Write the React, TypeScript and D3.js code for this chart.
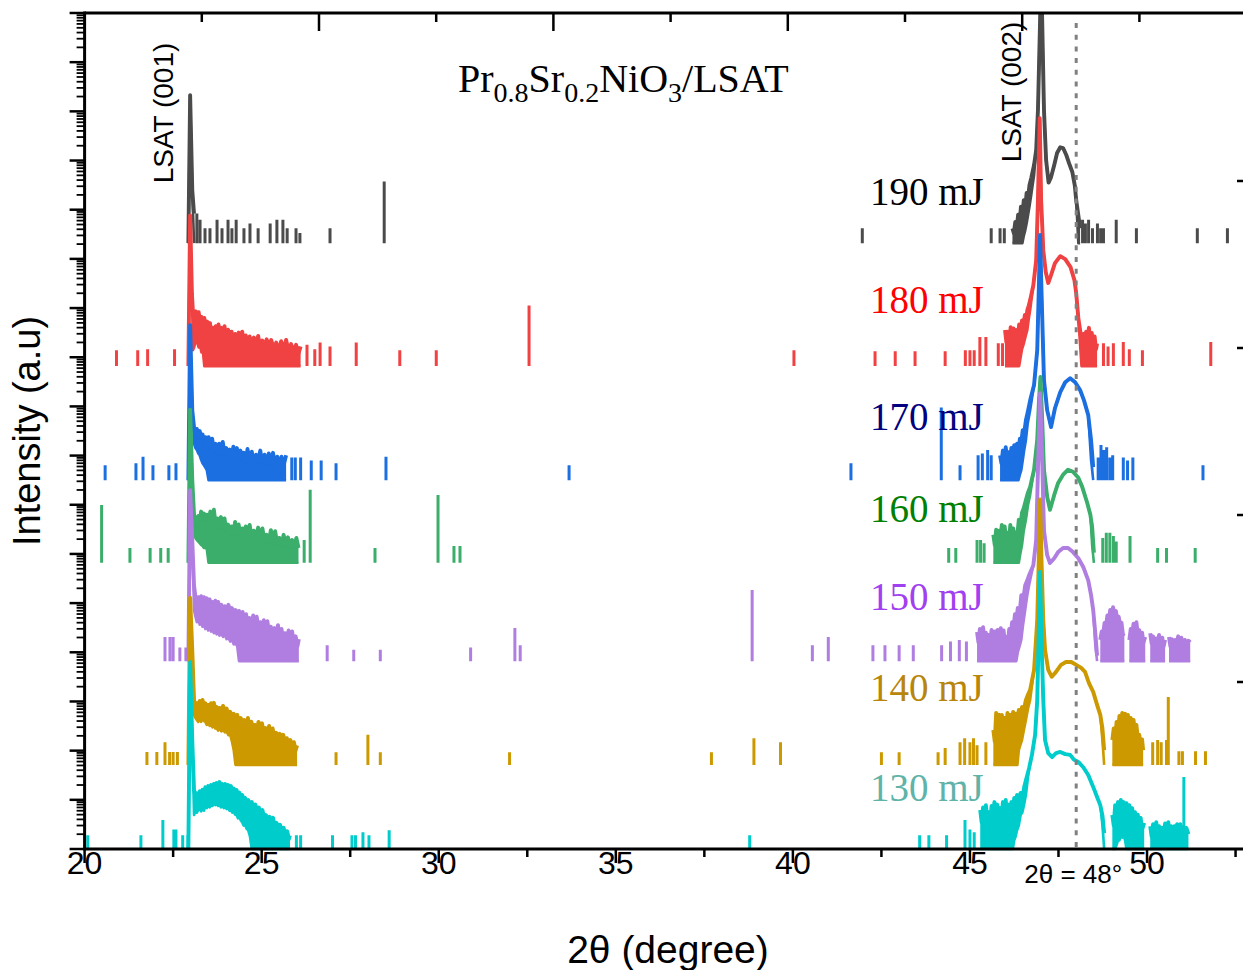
import React from 'react';
import * as d3 from 'd3';

// ---------- data ----------
const energies = ['190 mJ', '180 mJ', '170 mJ', '160 mJ', '150 mJ', '140 mJ', '130 mJ'];
const traceColors = ['#4b4b4b', '#f04242', '#1b6fe0', '#3aae6a', '#b07ee0', '#cc9900', '#00cccc'];
const labelColors = ['#000000', '#ff0000', '#000080', '#008000', '#a040f0', '#b8860b', '#5fb3a8'];
// vertical stacking: each pattern is multiplied by 10^exponent
const stackExponents = [12.32, 9.82, 7.5, 5.82, 3.82, 1.71, 0];

// [2θ, upper counts, lower counts]; null = no counts (gap)
const band190 = [
  [22.93, 1, 1], [22.98, 1020, 1020], [23.04, 12, 12], [23.09, 4, 1], null,
  [46.2, 2, 1], [46.24, 1.6, 1], [46.28, 2.7, 1], [46.32, 2, 1], [46.36, 3.8, 1], [46.4, 2.5, 1], [46.44, 5.5, 1],
  [46.48, 3.5, 1], [46.52, 7.5, 1.4], [46.56, 5, 1.8], [46.6, 10.5, 2.5], [46.64, 8, 3.7], [46.68, 15, 5.5],
  [46.73, 21, 9.5], [46.81, 39, 24], [46.87, 78, 78], [46.92, 510, 510], [46.98, 33000, 33000],
  [47.01, 360000, 360000], [47.04, 33000, 33000], [47.09, 510, 510], [47.15, 49, 49], [47.22, 17, 17],
  [47.29, 22, 22], [47.38, 39, 39], [47.46, 68, 68], [47.55, 89, 89], [47.63, 86, 86], [47.72, 62, 62],
  [47.8, 42, 42], [47.89, 28, 28], [47.96, 15, 15], [48.0, 7.5, 7.5], [48.06, 3.7, 1], [48.11, 2, 1],
];
const band180 = [
  [22.93, 1, 1], [22.98, 1150, 1150], [23.03, 30, 30], [23.06, 12, 2.1], [23.1, 9, 2.5], [23.14, 13, 3.4],
  [23.18, 10, 3], [23.22, 12.5, 2.4], [23.26, 8, 2.6], [23.3, 10, 1.9], [23.34, 7, 2], [23.38, 9.5, 1],
  [23.42, 6.5, 1], [23.46, 8, 1], [23.5, 5.5, 1], [23.54, 7.5, 1], [23.58, 4.5, 1], [23.62, 6, 1], [23.66, 4, 1],
  [23.7, 6.5, 1], [23.74, 5, 1], [23.78, 7, 1], [23.82, 4.5, 1], [23.86, 6, 1], [23.9, 4, 1], [23.95, 6.5, 1],
  [24.0, 3.5, 1], [24.05, 5.5, 1], [24.1, 3.8, 1], [24.15, 5, 1], [24.2, 3.2, 1], [24.25, 4.5, 1], [24.3, 3, 1],
  [24.35, 4.8, 1], [24.4, 3.3, 1], [24.45, 5, 1], [24.5, 3, 1], [24.55, 4.2, 1], [24.6, 2.7, 1], [24.66, 4, 1],
  [24.72, 2.5, 1], [24.78, 3.8, 1], [24.84, 2.6, 1], [24.9, 4.1, 1], [24.96, 2.4, 1], [25.02, 3.3, 1],
  [25.08, 2.2, 1], [25.14, 3.5, 1], [25.2, 2.5, 1], [25.27, 3.4, 1], [25.34, 2.2, 1], [25.41, 3, 1], [25.48, 2, 1],
  [25.55, 3.2, 1], [25.62, 2.2, 1], [25.69, 3.4, 1], [25.76, 2, 1], [25.83, 2.8, 1], [25.9, 2, 1], [25.97, 2.7, 1],
  [26.04, 1.8, 1], [26.1, 2.5, 1], null,
  [45.99, 5.4, 1], [46.03, 3, 1], [46.07, 5, 1], [46.11, 2.5, 1], [46.15, 6.2, 1], [46.19, 3.5, 1], [46.23, 5.8, 1],
  [46.27, 3.2, 1], [46.31, 5.4, 1], [46.35, 3.8, 1], [46.39, 7, 1], [46.43, 4.5, 1.5], [46.47, 8.5, 2.2],
  [46.51, 6.5, 2.7], [46.55, 11, 3.5], [46.59, 9, 4.5], [46.62, 13.8, 5.4], [46.66, 17, 9], [46.7, 22, 13.8],
  [46.79, 44, 44], [46.87, 143, 143], [46.92, 2370, 2370], [46.97, 110000, 110000], [47.01, 2370, 2370],
  [47.07, 228, 228], [47.14, 82, 82], [47.21, 49, 49], [47.29, 71, 71], [47.4, 124, 124], [47.55, 172, 172],
  [47.69, 150, 150], [47.84, 103, 103], [47.95, 56, 56], [48.0, 30.6, 30.6], [48.06, 9.5, 9.5], [48.11, 5.4, 2.7],
  [48.15, 3.2, 1], [48.2, 4.5, 1], [48.24, 2.6, 1], [48.28, 5, 1], [48.32, 3.2, 1], [48.36, 6, 1], [48.4, 3, 1],
  [48.44, 4.7, 1], [48.48, 2.6, 1], [48.52, 4, 1], [48.56, 2.2, 1], [48.59, 2.9, 1],
];
const band170 = [
  [22.93, 1, 1], [22.98, 1420, 1420], [23.04, 26.5, 26.5], [23.09, 12, 5.6], [23.13, 9, 4.5], [23.17, 11, 4.1],
  [23.21, 8.5, 3.5], [23.25, 10, 3.2], [23.29, 7.5, 2.6], [23.33, 8.5, 2.2], [23.37, 6, 2], [23.41, 7.5, 1.8],
  [23.45, 5.5, 1.6], [23.5, 7.5, 1], [23.55, 4.5, 1], [23.6, 7, 1], [23.65, 4, 1], [23.7, 5.5, 1], [23.75, 3.5, 1],
  [23.8, 5.5, 1], [23.85, 3.8, 1], [23.9, 6, 1], [23.95, 3.5, 1], [24.0, 4.5, 1], [24.05, 3, 1], [24.1, 4.2, 1],
  [24.15, 2.8, 1], [24.2, 4.8, 1], [24.25, 3, 1], [24.3, 4.5, 1], [24.35, 2.5, 1], [24.4, 4, 1], [24.45, 2.7, 1],
  [24.5, 3.6, 1], [24.55, 2.3, 1], [24.6, 4.3, 1], [24.66, 2.5, 1], [24.72, 3.8, 1], [24.78, 2.2, 1],
  [24.84, 3.3, 1], [24.9, 2.4, 1], [24.96, 4, 1], [25.02, 2.2, 1], [25.08, 3.3, 1], [25.14, 2, 1], [25.2, 3.5, 1],
  [25.26, 2.2, 1], [25.32, 3.6, 1], [25.38, 2, 1], [25.44, 3, 1], [25.5, 1.9, 1], [25.56, 3, 1], [25.62, 2, 1],
  [25.69, 3.2, 1], null,
  [45.85, 3.2, 1], [45.89, 2.2, 1], [45.93, 4, 1], [45.97, 2.5, 1], [46.01, 4.7, 1], [46.05, 2.6, 1],
  [46.09, 3.7, 1], [46.13, 2.4, 1], [46.17, 4.5, 1], [46.21, 3, 1], [46.25, 5.15, 1], [46.29, 3.2, 1],
  [46.33, 5.5, 1], [46.37, 3.8, 1], [46.41, 7, 1.3], [46.45, 6, 1.6], [46.49, 10.4, 2.5], [46.53, 9, 4],
  [46.58, 16.6, 6.5], [46.63, 24, 14], [46.7, 42, 26.5], [46.81, 86, 86], [46.9, 440, 440], [46.95, 11500, 11500],
  [46.98, 97000, 97000], [47.02, 7200, 7200], [47.09, 108, 108], [47.18, 26.5, 26.5], [47.29, 12, 12],
  [47.4, 29, 29], [47.55, 62, 62], [47.69, 98, 98], [47.83, 118, 118], [47.97, 98, 98], [48.11, 68, 68],
  [48.22, 42, 42], [48.34, 21, 21], [48.42, 6.5, 2.55], [48.48, 1.84, 1],
];
const band160 = [
  [22.93, 1, 1], [22.98, 1300, 1300], [23.04, 49, 49], [23.09, 9.5, 3.7], [23.13, 7, 3.2], [23.17, 6, 2.9],
  [23.21, 9, 2.7], [23.25, 7, 2.5], [23.29, 11, 2.3], [23.33, 8, 2.2], [23.37, 10, 2], [23.41, 7.5, 2],
  [23.45, 9.5, 1.9], [23.5, 7, 1], [23.55, 11, 1], [23.6, 8, 1], [23.65, 12, 1], [23.7, 6, 1], [23.75, 8, 1],
  [23.8, 5, 1], [23.85, 8.5, 1], [23.9, 5.5, 1], [23.95, 8, 1], [24.0, 4.5, 1], [24.05, 6, 1], [24.1, 4, 1],
  [24.15, 5.5, 1], [24.2, 3.8, 1], [24.25, 6.8, 1], [24.3, 4, 1], [24.35, 6, 1], [24.4, 3.5, 1], [24.45, 5, 1],
  [24.5, 3.3, 1], [24.55, 5.5, 1], [24.6, 3.5, 1], [24.66, 5.9, 1], [24.72, 3.2, 1], [24.78, 4.5, 1],
  [24.84, 3, 1], [24.9, 5.2, 1], [24.96, 3.2, 1], [25.02, 5, 1], [25.08, 2.8, 1], [25.14, 3.7, 1], [25.2, 2.6, 1],
  [25.26, 4.6, 1], [25.32, 2.8, 1], [25.38, 4.4, 1], [25.44, 2.4, 1], [25.5, 3.2, 1], [25.56, 2.3, 1],
  [25.62, 3.7, 1], [25.68, 2.2, 1], [25.74, 3.3, 1], [25.8, 2.2, 1], [25.86, 2.9, 1], [25.92, 2.1, 1],
  [25.98, 3.2, 1], [26.04, 2, 1], null,
  [45.66, 3.7, 1], [45.7, 2.3, 1], [45.74, 4.7, 1], [45.78, 2.8, 1], [45.82, 4.5, 1], [45.86, 3, 1],
  [45.9, 5.9, 1], [45.94, 3.5, 1], [45.98, 5.5, 1], [46.02, 3, 1], [46.06, 4.1, 1], [46.1, 2.7, 1],
  [46.14, 5.9, 1], [46.18, 3.5, 1], [46.22, 5, 1], [46.26, 3.3, 1], [46.3, 4.1, 1], [46.34, 3.8, 1],
  [46.38, 7.5, 1], [46.42, 5.5, 1.5], [46.47, 10.4, 2.3], [46.52, 13, 4.5], [46.58, 19, 7.5], [46.64, 27, 15],
  [46.7, 35, 24], [46.81, 78, 78], [46.9, 320, 320], [46.95, 2070, 2070], [46.99, 6000, 6000], [47.04, 800, 800],
  [47.09, 78, 78], [47.18, 22, 22], [47.26, 12, 12], [47.38, 24, 24], [47.49, 42, 42], [47.63, 62, 62],
  [47.77, 78, 78], [47.91, 71, 71], [48.06, 53.5, 53.5], [48.17, 35, 35], [48.31, 16.6, 16.6], [48.4, 9.5, 9.5],
  [48.45, 5.4, 2.3], [48.5, 1.6, 1],
];
const band150 = [
  [22.93, 1, 1], [22.98, 3000, 3000], [23.04, 290, 290], [23.09, 35, 10.9], [23.13, 20, 8], [23.17, 17, 6.2],
  [23.21, 20, 7], [23.25, 16, 5.5], [23.29, 21, 6], [23.33, 17, 5], [23.37, 20, 5.5], [23.41, 16, 4.5],
  [23.45, 19, 5], [23.49, 15, 4.2], [23.53, 18, 4.7], [23.57, 14, 4], [23.61, 16, 4.3], [23.65, 13, 3.7],
  [23.69, 17, 4], [23.73, 13, 3.5], [23.77, 16, 3.9], [23.81, 12, 3.3], [23.86, 14, 3.6], [23.91, 10.5, 3.1],
  [23.96, 13, 3.4], [24.01, 10, 2.8], [24.06, 14, 3], [24.11, 10.5, 2.5], [24.16, 12, 2.7], [24.21, 9, 2.2],
  [24.26, 11, 2.3], [24.31, 8, 2], [24.36, 10.5, 1], [24.41, 7, 1], [24.46, 10, 1], [24.51, 6.5, 1],
  [24.56, 9, 1], [24.61, 5.5, 1], [24.66, 7.5, 1], [24.71, 5, 1], [24.76, 8.5, 1], [24.81, 5, 1], [24.86, 8, 1],
  [24.91, 4.5, 1], [24.96, 6.2, 1], [25.01, 4, 1], [25.06, 6.8, 1], [25.11, 4, 1], [25.16, 6.5, 1],
  [25.21, 3.8, 1], [25.26, 5, 1], [25.31, 3.3, 1], [25.36, 4.7, 1], [25.41, 3, 1], [25.46, 5.4, 1], [25.51, 3, 1],
  [25.56, 4.5, 1], [25.61, 2.7, 1], [25.66, 3.7, 1], [25.71, 2.4, 1], [25.76, 4.2, 1], [25.81, 2.5, 1],
  [25.86, 4, 1], [25.91, 2.2, 1], [25.96, 3.2, 1], [26.01, 2, 1], [26.05, 2.8, 1], null,
  [45.2, 3.9, 1], [45.24, 2.4, 1], [45.28, 4.5, 1], [45.32, 2.8, 1], [45.37, 4.9, 1], [45.41, 2.6, 1],
  [45.45, 3.8, 1], [45.49, 2.2, 1], [45.53, 3.4, 1], [45.57, 2.4, 1], [45.61, 4.3, 1], [45.65, 2.6, 1],
  [45.7, 4, 1], [45.74, 2.8, 1], [45.78, 4.3, 1], [45.82, 2.5, 1], [45.87, 4.7, 1], [45.91, 3, 1], [45.95, 4.2, 1],
  [45.99, 2.2, 1], [46.03, 3.1, 1], [46.07, 2.5, 1], [46.11, 4.5, 1], [46.15, 3.2, 1], [46.19, 6.2, 1],
  [46.23, 4.5, 1], [46.27, 9, 1], [46.31, 6.5, 1], [46.35, 12, 1.5], [46.4, 9, 2], [46.45, 22, 2.7],
  [46.5, 17, 5.5], [46.56, 35, 10.9], [46.62, 44, 22], [46.67, 56, 35], [46.79, 89, 89], [46.87, 290, 290],
  [46.92, 7700, 7700], [46.98, 280000, 280000], [47.04, 12000, 12000], [47.09, 460, 460], [47.18, 143, 143],
  [47.26, 99, 99], [47.38, 124, 124], [47.49, 165, 165], [47.63, 200, 200], [47.77, 200, 200], [47.91, 165, 165],
  [48.06, 124, 124], [48.2, 82, 82], [48.34, 44, 44], [48.42, 22, 22], [48.48, 10.9, 10.9], [48.54, 3.7, 2.1],
  [48.59, 1.3, 1], null,
  [48.68, 2.7, 1], [48.72, 4, 1], [48.76, 3.5, 1], [48.8, 6, 1], [48.84, 5, 1], [48.88, 8.5, 1], [48.92, 6.5, 1],
  [48.96, 11, 1], [49.0, 8, 1], [49.04, 12.5, 1], [49.08, 9, 1], [49.12, 10.5, 1], [49.16, 7, 1], [49.2, 8, 1],
  [49.24, 5.5, 1], [49.28, 6, 1], [49.32, 3.5, 1], [49.36, 3.7, 1], null,
  [49.5, 2.7, 1], [49.54, 4.5, 1], [49.58, 3.5, 1], [49.62, 5.8, 1], [49.66, 4, 1], [49.7, 6.2, 1], [49.74, 3.5, 1],
  [49.78, 4.3, 1], [49.82, 2.6, 1], [49.86, 3.8, 1], [49.9, 2.4, 1], [49.95, 3.1, 1], null,
  [50.09, 3.7, 1], [50.13, 2.3, 1], [50.17, 3.2, 1], [50.21, 2, 1], [50.25, 2.9, 1], [50.3, 2.2, 1],
  [50.34, 3.4, 1], [50.38, 2.1, 1], [50.43, 3, 1], [50.47, 2, 1], [50.51, 2.7, 1], null,
  [50.62, 3.1, 1], [50.66, 2, 1], [50.7, 2.8, 1], [50.75, 1.9, 1], [50.79, 2.7, 1], [50.83, 2, 1], [50.88, 3.2, 1],
  [50.93, 2.2, 1], [50.97, 3, 1], [51.01, 1.9, 1], [51.07, 2.7, 1], [51.12, 2, 1], [51.17, 2.6, 1], [51.22, 2.4, 1],
];
const band140 = [
  [22.93, 1, 1], [22.98, 2500, 2500], [23.04, 218, 218], [23.09, 21, 10.4], [23.13, 15, 9], [23.17, 18, 8.2],
  [23.21, 14, 7.5], [23.25, 20, 8.5], [23.29, 15, 7.5], [23.33, 21, 9], [23.37, 15.5, 7.8], [23.41, 18, 7.5],
  [23.45, 14, 6.5], [23.49, 16.6, 7.5], [23.53, 13, 6.2], [23.57, 18, 6.5], [23.61, 14, 5.8], [23.65, 18.3, 6.5],
  [23.69, 13, 5.5], [23.73, 15, 5.6], [23.77, 12, 5], [23.81, 14.4, 5.5], [23.86, 11.5, 4.8], [23.91, 15.8, 5.15],
  [23.96, 11, 4.6], [24.01, 14, 4.8], [24.06, 10, 4], [24.11, 12, 4.1], [24.16, 9, 3], [24.21, 11, 2],
  [24.26, 8, 1], [24.31, 10.4, 1], [24.36, 7, 1], [24.41, 9, 1], [24.46, 6.5, 1], [24.51, 8.2, 1], [24.56, 5.5, 1],
  [24.61, 9, 1], [24.66, 6, 1], [24.71, 7.5, 1], [24.76, 5, 1], [24.81, 6.5, 1], [24.86, 4.5, 1], [24.91, 7.5, 1],
  [24.96, 5, 1], [25.01, 7, 1], [25.06, 4.3, 1], [25.11, 5.6, 1], [25.16, 4, 1], [25.21, 6.2, 1], [25.26, 4, 1],
  [25.31, 5.5, 1], [25.36, 3.5, 1], [25.41, 4.5, 1], [25.46, 3.2, 1], [25.51, 4.3, 1], [25.56, 3, 1],
  [25.61, 4.1, 1], [25.66, 2.7, 1], [25.71, 3.5, 1], [25.76, 2.4, 1], [25.81, 3.2, 1], [25.86, 2.2, 1],
  [25.91, 2.9, 1], [25.96, 2, 1], [26.0, 2.5, 1], null,
  [45.66, 5.15, 1], [45.7, 3, 1], [45.74, 11.4, 1], [45.78, 6, 1], [45.82, 10.5, 1], [45.86, 5.5, 1],
  [45.9, 10.4, 1], [45.94, 6.5, 1], [45.98, 9, 1], [46.02, 5, 1], [46.06, 11.4, 1], [46.1, 7, 1], [46.14, 10.4, 1],
  [46.18, 6, 1], [46.22, 12, 1], [46.26, 8, 1], [46.3, 11, 1], [46.34, 7.5, 1], [46.38, 13.1, 2], [46.42, 10, 2.5],
  [46.47, 15, 3.2], [46.52, 13, 5], [46.58, 21, 8.2], [46.64, 27, 14], [46.7, 33.5, 21], [46.81, 86, 86],
  [46.9, 890, 890], [46.95, 24000, 24000], [46.98, 250000, 250000], [47.02, 14500, 14500], [47.07, 890, 890],
  [47.12, 218, 218], [47.21, 86, 86], [47.31, 62, 62], [47.43, 78, 78], [47.57, 108, 108], [47.71, 124, 124],
  [47.86, 124, 124], [48.0, 108, 108], [48.14, 94, 94], [48.25, 78, 78], [48.36, 46, 46], [48.48, 30.6, 30.6],
  [48.59, 16.6, 16.6], [48.68, 10.4, 10.4], [48.74, 5.6, 3.2], [48.79, 2, 1], null,
  [49.02, 3.2, 1], [49.06, 5.5, 1], [49.1, 3.5, 1], [49.14, 7.5, 1], [49.18, 4.5, 1], [49.22, 9.9, 1],
  [49.26, 6, 1], [49.3, 11.4, 1], [49.34, 6.5, 1], [49.38, 11, 1], [49.42, 7, 1], [49.46, 10.4, 1], [49.5, 5.5, 1],
  [49.54, 9, 1], [49.58, 5, 1], [49.62, 8.2, 1], [49.66, 4.5, 1], [49.7, 6.5, 1], [49.74, 3.5, 1], [49.78, 4.1, 1],
  [49.82, 2.5, 1], [49.86, 3.3, 1], [49.89, 2, 1],
];
const band130 = [
  [22.93, 1, 1], [22.98, 6300, 6300], [23.04, 165, 165], [23.09, 15.8, 4.9], [23.13, 12, 6], [23.17, 13.5, 5.5],
  [23.21, 11.5, 6.2], [23.25, 15, 6.5], [23.29, 12.5, 5.8], [23.33, 16, 6.8], [23.37, 14, 6], [23.41, 18, 7.5],
  [23.45, 15, 6.8], [23.49, 19, 7.8], [23.53, 16.5, 7], [23.57, 20, 8], [23.61, 17, 7.5], [23.65, 21, 8.6],
  [23.69, 18, 7.8], [23.73, 22, 8.2], [23.77, 19, 7.5], [23.81, 23, 8], [23.85, 19.5, 7], [23.89, 21, 7.5],
  [23.93, 18, 6.8], [23.97, 21, 7.2], [24.01, 17.5, 6.5], [24.05, 20, 6.8], [24.09, 16, 6], [24.13, 19, 6.2],
  [24.17, 15, 5.5], [24.21, 17, 5.8], [24.25, 14, 5], [24.29, 15.8, 4.9], [24.33, 12.5, 4.2], [24.37, 14, 4.5],
  [24.41, 11, 3.8], [24.45, 12.5, 3.5], [24.49, 10, 3], [24.53, 11, 3.2], [24.57, 9, 2.6], [24.62, 9.9, 2.4],
  [24.67, 7.5, 1.8], [24.72, 9, 1], [24.77, 6.5, 1], [24.82, 8, 1], [24.87, 5.8, 1], [24.92, 7, 1], [24.97, 5, 1],
  [25.02, 6.2, 1], [25.07, 4.3, 1], [25.12, 4.9, 1], [25.17, 3.6, 1], [25.22, 4.5, 1], [25.27, 3.3, 1],
  [25.32, 4.3, 1], [25.37, 2.9, 1], [25.42, 3.4, 1], [25.47, 2.5, 1], [25.52, 3.1, 1], [25.57, 2.2, 1],
  [25.62, 2.7, 1], [25.67, 1.9, 1], [25.72, 2.3, 1], [25.77, 1.6, 1], [25.8, 1.9, 1], null,
  [45.29, 6.2, 1], [45.33, 3.5, 1], [45.37, 7, 1], [45.41, 3.8, 1], [45.45, 7.8, 1], [45.49, 4, 1],
  [45.53, 5.6, 1], [45.57, 3.2, 1], [45.61, 7.5, 1], [45.65, 4.2, 1], [45.69, 9, 1], [45.73, 5, 1], [45.77, 8, 1],
  [45.81, 4.5, 1], [45.85, 6.8, 1], [45.89, 4.4, 1], [45.93, 9, 1], [45.97, 5.5, 1], [46.01, 9.9, 1],
  [46.05, 5, 1], [46.09, 8, 1], [46.13, 5.2, 1], [46.17, 9, 1], [46.21, 6, 1], [46.25, 10.9, 1.5],
  [46.29, 7, 1.8], [46.33, 12.5, 2.4], [46.38, 9, 3], [46.43, 13.8, 4.9], [46.48, 11, 5.5], [46.53, 18, 8],
  [46.58, 25, 12.5], [46.67, 44, 44], [46.75, 82, 82], [46.84, 210, 210], [46.9, 1070, 1070],
  [46.95, 45000, 45000], [46.98, 430000, 430000], [47.02, 17800, 17800], [47.07, 1070, 1070], [47.12, 165, 165],
  [47.21, 89, 89], [47.32, 74, 74], [47.43, 89, 89], [47.55, 94, 94], [47.69, 85, 85], [47.83, 82, 82],
  [47.94, 65, 65], [48.06, 59, 59], [48.2, 46, 46], [48.34, 32, 32], [48.48, 18.3, 18.3], [48.59, 11.4, 11.4],
  [48.68, 7.8, 7.8], [48.74, 4.9, 3.1], [48.79, 2.1, 1], null,
  [49.02, 4.9, 1], [49.06, 3, 1], [49.1, 7.8, 1], [49.14, 4.5, 1.2], [49.18, 9, 1.5], [49.22, 5.5, 1.5],
  [49.26, 9.9, 1.9], [49.3, 6, 1.7], [49.34, 9, 1.9], [49.38, 5.5, 1.5], [49.42, 8.5, 1], [49.46, 5, 1],
  [49.5, 7.8, 1], [49.54, 4.3, 1], [49.58, 6.8, 1], [49.62, 4, 1], [49.66, 5.6, 1], [49.7, 3.2, 1], [49.74, 5, 1],
  [49.78, 3, 1], [49.82, 4.3, 1], [49.86, 2.5, 1], [49.92, 3.4, 1], null,
  [50.09, 2.9, 1], [50.13, 1.8, 1], [50.17, 3.2, 1], [50.21, 2, 1], [50.26, 3.5, 1], [50.3, 2.2, 1],
  [50.34, 2.9, 1], [50.38, 1.8, 1], [50.43, 2.7, 1], [50.47, 2, 1], [50.51, 3.3, 1], [50.55, 2.2, 1],
  [50.6, 3.5, 1], [50.64, 2, 1], [50.68, 2.9, 1], [50.72, 1.9, 1], [50.77, 2.9, 1], [50.81, 2.1, 1],
  [50.85, 3.2, 1], [50.89, 2, 1], [50.94, 3.2, 1], [50.98, 2.2, 1], [51.02, 2.8, 1], [51.06, 1.9, 1],
  [51.11, 2.7, 1], [51.17, 2.0, 1],
];

// isolated noise counts [2θ, counts]
const spikes190 = [
  [23.17, 4], [23.26, 3], [23.4, 2], [23.54, 2], [23.74, 3], [23.88, 2], [24.05, 3], [24.16, 2], [24.28, 3],
  [24.5, 2], [24.67, 2.5], [24.9, 2], [25.24, 2.5], [25.43, 3], [25.6, 3], [25.72, 2], [25.97, 2], [26.08, 1.6],
  [26.93, 2], [28.46, 18], [41.96, 2], [45.6, 2], [45.85, 2], [45.97, 2], [48.18, 3], [48.26, 2.5], [48.35, 3],
  [48.46, 2], [48.6, 2.5], [48.69, 2], [48.77, 2], [49.13, 3], [49.7, 2], [51.42, 2], [52.27, 2],
];
const spikes180 = [
  [20.9, 2.1], [21.5, 2.1], [21.78, 2.2], [22.54, 2.2], [26.28, 2.7], [26.5, 2.2], [26.65, 3.0], [26.93, 2.5],
  [27.67, 3], [28.9, 2.1], [29.93, 2.1], [32.55, 17], [40.03, 2.1], [42.32, 2], [42.89, 2], [43.45, 2], [44.3, 2],
  [44.87, 2.1], [45.0, 2.1], [45.12, 2.1], [45.28, 3.9], [45.45, 3.9], [45.8, 2.9], [45.92, 2.9], [48.77, 2.9],
  [48.9, 2.5], [49.05, 2.9], [49.33, 3.1], [49.5, 2.2], [49.87, 2.1], [51.8, 3.1],
];
const spikes170 = [
  [20.58, 2.0], [21.45, 2.2], [21.65, 3.0], [21.93, 2.0], [22.38, 2.0], [22.58, 2.2], [25.85, 2.9], [25.95, 2.9],
  [26.1, 2.9], [26.4, 2.5], [26.68, 2.5], [27.1, 2.2], [28.51, 3.0], [33.68, 2.0], [41.64, 2.2], [44.19, 30],
  [44.72, 2], [45.23, 3.2], [45.35, 3.5], [45.5, 4.1], [45.6, 3.2], [48.62, 2.9], [48.7, 5.2], [48.78, 4.1],
  [48.86, 4.7], [48.95, 2.9], [49.03, 3.2], [49.33, 2.9], [49.45, 2.5], [49.6, 2.9], [51.58, 2.0],
];
const spikes160 = [
  [20.48, 15], [21.28, 2.0], [21.85, 2.0], [22.15, 2.0], [22.36, 2.0], [26.2, 2.9], [26.37, 30.6], [28.2, 2.0],
  [29.98, 24], [30.43, 2.2], [30.6, 2.2], [44.4, 2.0], [44.6, 2.0], [45.2, 2.9], [45.3, 2.9], [45.4, 2.5],
  [48.75, 3.2], [48.85, 4.1], [48.95, 4.1], [49.05, 3.5], [49.13, 2.7], [49.52, 3.5], [50.3, 2.0], [50.55, 2.0],
  [51.36, 2.0],
];
const spikes150 = [
  [22.27, 3.1], [22.41, 3.1], [22.5, 3.1], [22.69, 1.9], [22.86, 1.9], [26.85, 2.1], [27.6, 1.7], [28.35, 1.7],
  [30.9, 1.9], [32.15, 4.7], [32.3, 2.1], [38.85, 28], [40.55, 2.1], [41.0, 3.1], [42.26, 2.1], [42.6, 2.1],
  [43.0, 2.1], [43.4, 2.1], [44.2, 2.1], [44.45, 2.5], [44.7, 2.7], [44.9, 2.5],
];
const spikes140 = [
  [21.76, 1.84], [22.04, 1.84], [22.27, 2.9], [22.4, 1.84], [22.5, 1.84], [22.62, 1.84], [27.1, 1.8], [28.0, 4.1],
  [28.35, 1.8], [32.0, 1.8], [37.7, 1.8], [38.9, 3.5], [39.65, 2.9], [42.5, 1.8], [43.0, 1.8], [44.1, 1.8],
  [44.3, 2.2], [44.72, 2.9], [44.85, 3.5], [45.0, 2.9], [45.1, 3.5], [45.2, 2.5], [45.45, 2.9], [50.16, 2.9],
  [50.3, 3.2], [50.4, 2.9], [50.55, 3.2], [50.6, 24], [50.9, 1.9], [51.0, 1.9], [51.37, 1.9], [51.65, 1.9],
];
const spikes130 = [
  [20.09, 1.9], [21.59, 1.9], [22.21, 3.9], [22.52, 2.5], [22.58, 2.5], [22.77, 1.9], [22.92, 1.9], [25.98, 1.9],
  [26.1, 1.9], [27.0, 1.9], [27.55, 1.9], [27.65, 1.9], [27.86, 2.2], [28.03, 1.9], [28.6, 2.4], [38.78, 1.9],
  [43.58, 1.9], [43.84, 1.9], [44.34, 1.9], [44.86, 3.9], [45.0, 2.5], [45.12, 2.2], [51.04, 29],
];

const bands = [band190, band180, band170, band160, band150, band140, band130];
const spikeSets = [spikes190, spikes180, spikes170, spikes160, spikes150, spikes140, spikes130];

const xTickValues = [20, 22.5, 25, 27.5, 30, 32.5, 35, 37.5, 40, 42.5, 45, 47.5, 50, 52.5];
const referenceAngle = 48;
const peakLabels = [
  { text: 'LSAT (001)', angle: 22.98 },
  { text: 'LSAT (002)', angle: 47.01 },
];

// ---------- layout ----------
const W = 1243;
const H = 970;
const plot = { left: 84.6, right: 1243, top: 13, bottom: 849 };
const sans = 'Liberation Sans, Arial, Helvetica, sans-serif';
const serif = 'Liberation Serif, Times New Roman, Times, serif';

const x = d3.scaleLinear().domain([20, 52.71]).range([plot.left, plot.right]);
const y = d3.scaleLog().domain([1, 1e17]).range([plot.bottom, plot.top]);
// secondary frame scales (unlabelled ticks on top and right edges)
const topScale = d3.scaleLinear().domain([0, 10]).range([plot.left, plot.left + 1172]);
const rightScale = d3.scaleLinear().domain([0, 5]).range([plot.bottom, plot.bottom - 835]);

const labelBaselines = [205, 313, 430, 522, 610, 701, 801];

function Trace({ idx }: { idx: number }) {
  const m = Math.pow(10, stackExponents[idx]);
  const data = bands[idx] as any[];
  const color = traceColors[idx];
  const area = d3
    .area<any>()
    .defined((d) => d !== null)
    .x((d) => x(d[0]))
    .y0((d) => y(d[2] * m))
    .y1((d) => y(d[1] * m));
  const hi = d3
    .line<any>()
    .defined((d) => d !== null)
    .x((d) => x(d[0]))
    .y((d) => y(d[1] * m));
  const lo = d3
    .line<any>()
    .defined((d) => d !== null)
    .x((d) => x(d[0]))
    .y((d) => y(d[2] * m));
  const spikePath = (spikeSets[idx] as number[][])
    .map((s) => `M${x(s[0]).toFixed(2)},${y(m).toFixed(2)}V${y(s[1] * m).toFixed(2)}`)
    .join('');
  return (
    <g>
      <path d={area(data) || ''} fill={color} stroke="none" />
      <path d={lo(data) || ''} fill="none" stroke={color} strokeWidth={2.6} strokeLinejoin="round" />
      <path d={hi(data) || ''} fill="none" stroke={color} strokeWidth={3.9} strokeLinejoin="round" />
      <path d={spikePath} fill="none" stroke={color} strokeWidth={3} />
    </g>
  );
}

export default function App() {
  const decades = d3.range(0, 18);
  const minorTicks: number[] = [];
  decades.slice(0, 17).forEach((k) => {
    for (let j = 2; j <= 9; j++) minorTicks.push(j * Math.pow(10, k));
  });
  const topTicks = d3.range(1, 10);
  const rightTicks = [1, 2, 3, 4];

  return (
    <svg
      width={W}
      height={H}
      viewBox={`0 0 ${W} ${H}`}
      style={{ position: 'absolute', left: 0, top: 0, background: '#fff' }}
    >
      <defs>
        <clipPath id="plotArea">
          <rect x={plot.left} y={plot.top} width={plot.right - plot.left} height={plot.bottom - plot.top + 2} />
        </clipPath>
      </defs>
      <rect x={0} y={0} width={W} height={H} fill="#fff" />

      <g clipPath="url(#plotArea)">
        {energies.map((_, i) => (
          <Trace key={i} idx={i} />
        ))}
      </g>

      {/* reference angle */}
      <line
        x1={x(referenceAngle)}
        x2={x(referenceAngle)}
        y1={plot.top + 10}
        y2={plot.bottom}
        stroke="#808080"
        strokeWidth={3}
        strokeDasharray="5 6.7"
      />
      <text x={x(referenceAngle) - 3} y={883} fontFamily={sans} fontSize={26} textAnchor="middle" fill="#000">
        2θ = 48°
      </text>

      {/* frame */}
      <line x1={plot.left} x2={plot.right} y1={plot.top} y2={plot.top} stroke="#000" strokeWidth={3} />
      <line x1={plot.left} x2={plot.right} y1={plot.bottom} y2={plot.bottom} stroke="#000" strokeWidth={3} />
      <line x1={plot.left} x2={plot.left} y1={plot.top - 1.5} y2={plot.bottom + 1.5} stroke="#000" strokeWidth={3} />

      {/* left log axis */}
      {decades.map((k) => (
        <line key={`M${k}`} x1={plot.left - 15} x2={plot.left} y1={y(Math.pow(10, k))} y2={y(Math.pow(10, k))} stroke="#000" strokeWidth={2.5} />
      ))}
      {minorTicks.map((v, i) => (
        <line key={`m${i}`} x1={plot.left - 8} x2={plot.left} y1={y(v)} y2={y(v)} stroke="#000" strokeWidth={1.8} />
      ))}

      {/* bottom axis */}
      {xTickValues.map((v) => {
        const major = v % 5 === 0;
        return (
          <g key={v}>
            <line x1={x(v)} x2={x(v)} y1={plot.bottom} y2={plot.bottom + (major ? 14 : 8)} stroke="#000" strokeWidth={2.5} />
            {major && (
              <text x={x(v)} y={874} fontFamily={sans} fontSize={32} textAnchor="middle" fill="#000">
                {v}
              </text>
            )}
          </g>
        );
      })}

      {/* top and right edge ticks */}
      {topTicks.map((t) => (
        <line key={`t${t}`} x1={topScale(t)} x2={topScale(t)} y1={plot.top} y2={plot.top + (t % 2 === 0 ? 18 : 9)} stroke="#000" strokeWidth={2.5} />
      ))}
      {rightTicks.map((t) => (
        <line key={`r${t}`} x1={plot.right - 6} x2={plot.right} y1={rightScale(t)} y2={rightScale(t)} stroke="#000" strokeWidth={2.5} />
      ))}

      {/* axis titles */}
      <text x={668} y={963} fontFamily={sans} fontSize={39} textAnchor="middle" fill="#000">
        2θ (degree)
      </text>
      <text transform="translate(40,431) rotate(-90)" fontFamily={sans} fontSize={38} textAnchor="middle" fill="#000">
        Intensity (a.u)
      </text>

      {/* peak annotations */}
      <text transform={`translate(${x(peakLabels[0].angle) - 17},113) rotate(-90)`} fontFamily={sans} fontSize={28} textAnchor="middle" fill="#000">
        {peakLabels[0].text}
      </text>
      <text transform={`translate(${x(peakLabels[1].angle) - 20},92) rotate(-90)`} fontFamily={sans} fontSize={28} textAnchor="middle" fill="#000">
        {peakLabels[1].text}
      </text>

      {/* title */}
      <text x={458} y={92} fontFamily={serif} fontSize={40} fill="#000">
        Pr
        <tspan fontSize={28} dy={10}>0.8</tspan>
        <tspan dy={-10}>Sr</tspan>
        <tspan fontSize={28} dy={10}>0.2</tspan>
        <tspan dy={-10}>NiO</tspan>
        <tspan fontSize={28} dy={10}>3</tspan>
        <tspan dy={-10}>/LSAT</tspan>
      </text>

      {/* series labels */}
      {energies.map((e, i) => (
        <text key={e} x={870} y={labelBaselines[i]} fontFamily={serif} fontSize={39} fill={labelColors[i]}>
          {e}
        </text>
      ))}
    </svg>
  );
}
